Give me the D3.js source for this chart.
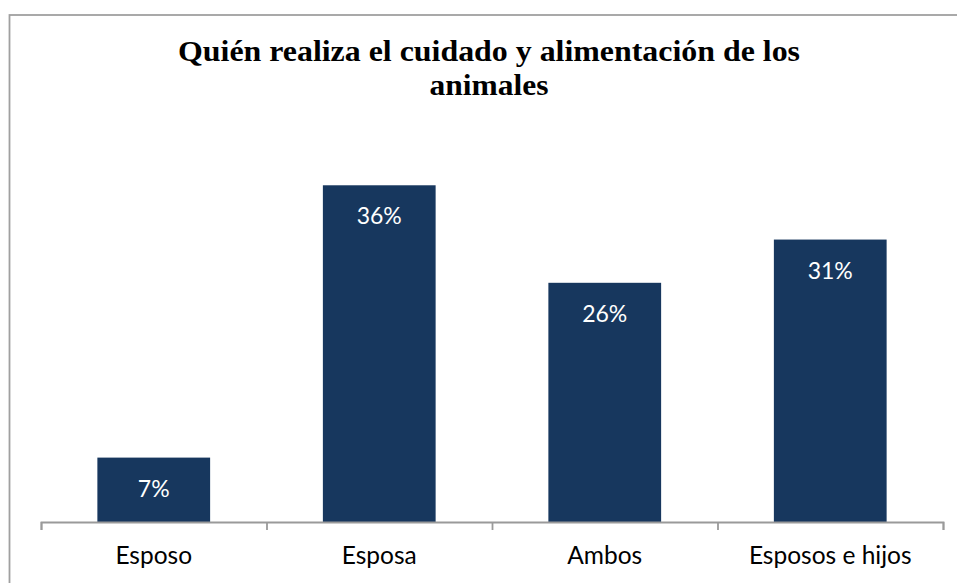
<!DOCTYPE html>
<html>
<head>
<meta charset="utf-8">
<script src="https://cdn.jsdelivr.net/npm/d3@7"></script>
<style>
  body { margin: 0; background: #fff; }
  svg { display: block; }
</style>
</head>
<body>
<svg id="chart" width="957" height="583"></svg>
<script>
const categories = ['Esposo', 'Esposa', 'Ambos', 'Esposos e hijos'];
const values = [7.0, 36.6, 26.0, 30.7];
const valueLabels = ['7%', '36%', '26%', '31%'];
const titleLines = ['Quién realiza el cuidado y alimentación de los', 'animales'];
const titleWidths = [622, 119];

const svg = d3.select('#chart');
const left = 41;
const right = 943;
const baseline = 522;

// marco del grafico
svg.append('rect')
  .attr('x', 9.5)
  .attr('y', 15)
  .attr('width', 980)
  .attr('height', 600)
  .attr('fill', 'none')
  .attr('stroke', '#a0a0a0')
  .attr('stroke-width', 1.8);

svg.append('g')
  .selectAll('text')
  .data(titleLines)
  .enter().append('text')
  .attr('x', 489)
  .attr('y', (d, i) => 61 + i * 34)
  .attr('text-anchor', 'middle')
  .attr('font-family', '"Liberation Serif", "Times New Roman", serif')
  .attr('font-weight', 'bold')
  .attr('font-size', 29.5)
  .attr('fill', '#000')
  .attr('textLength', (d, i) => titleWidths[i])
  .attr('lengthAdjust', 'spacingAndGlyphs')
  .text(d => d);

const x = d3.scaleBand()
  .domain(categories)
  .range([left, right])
  .paddingInner(0.5)
  .paddingOuter(0.25);

const y = d3.scaleLinear()
  .domain([0, 40])
  .range([baseline, baseline - 368]);

const g = svg.append('g');

g.selectAll('.bar')
  .data(values)
  .enter().append('rect')
  .attr('class', 'bar')
  .attr('x', (d, i) => x(categories[i]))
  .attr('width', x.bandwidth())
  .attr('y', d => y(d))
  .attr('height', d => baseline - y(d))
  .attr('fill', '#17375e');

g.selectAll('.lbl')
  .data(values)
  .enter().append('text')
  .attr('class', 'lbl')
  .attr('x', (d, i) => x(categories[i]) + x.bandwidth() / 2)
  .attr('y', d => y(d) + 39)
  .attr('text-anchor', 'middle')
  .attr('font-family', 'Lato, "Open Sans", sans-serif')
  .attr('font-size', 23)
  .attr('fill', '#fff')
  .text((d, i) => valueLabels[i]);

// eje con marcas entre categorias
const edge = d3.scaleLinear().domain([0, categories.length]).range([left, right]);
const axis = svg.append('g')
  .attr('transform', `translate(0,${baseline})`)
  .call(d3.axisBottom(edge)
    .tickValues(d3.range(categories.length + 1))
    .tickSize(8)
    .tickFormat(''));
axis.selectAll('path, line')
  .attr('stroke', '#9a9a9a')
  .attr('stroke-width', 1.8);

svg.append('g')
  .selectAll('text')
  .data(categories)
  .enter().append('text')
  .attr('x', d => x(d) + x.bandwidth() / 2)
  .attr('y', baseline + 42)
  .attr('text-anchor', 'middle')
  .attr('font-family', 'Lato, "Open Sans", sans-serif')
  .attr('font-size', 24.5)
  .attr('fill', '#000')
  .text(d => d);
</script>
</body>
</html>
